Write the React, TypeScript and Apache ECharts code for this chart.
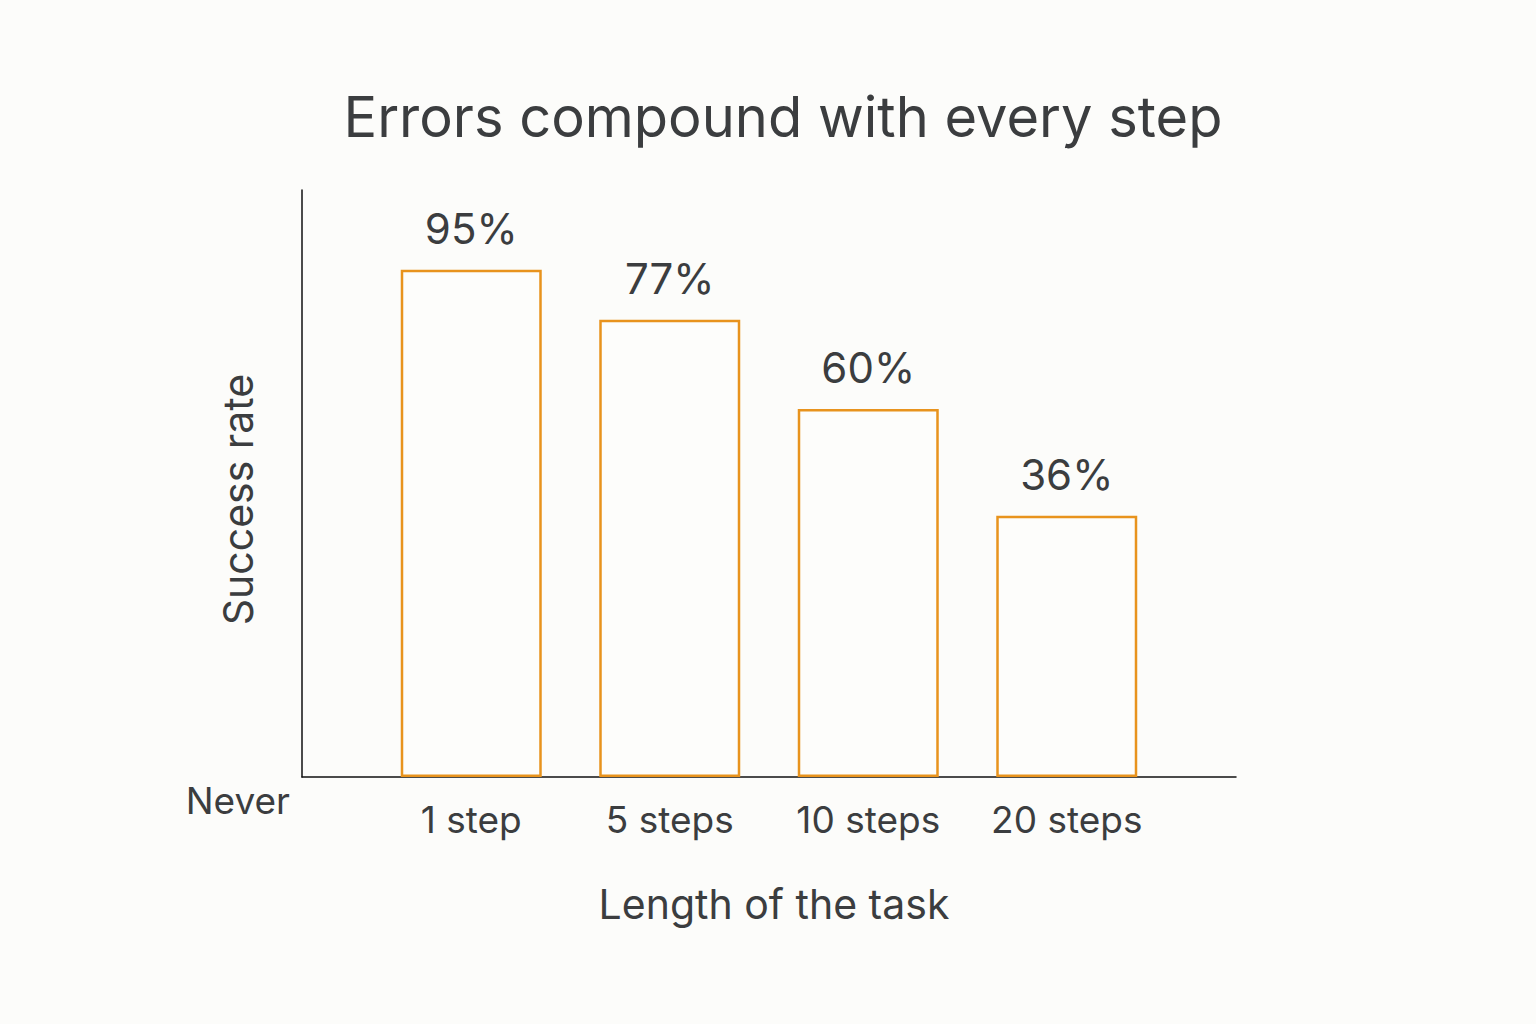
import { useEffect, useRef } from "react";
import * as echarts from "echarts";

// categories along the x axis
const taskLengths = ["1 step", "5 steps", "10 steps", "20 steps"];
// bar heights as drawn in the picture (share of the y axis, 0–100)
const barHeights = [86.4, 77.9, 62.7, 44.5];
// the rates printed above the bars
const rateLabels = ["95%", "77%", "60%", "36%"];

const TEXT = "#3b3d3f";
const ORANGE = "#e8931d";
const FONT = "Inter, 'Noto Sans', sans-serif";

const App = () => {
  const chartRef = useRef<HTMLDivElement>(null);

  useEffect(() => {
    if (!chartRef.current) return;
    const chart = echarts.init(chartRef.current, null, { renderer: "svg" });

    const option: echarts.EChartsOption = {
      animation: false,
      backgroundColor: "#fcfcfa",
      textStyle: { fontFamily: FONT },
      title: {
        text: "Errors compound with every step",
        left: 778,
        top: 84,
        textAlign: "center",
        textStyle: { color: TEXT, fontSize: 56, fontWeight: "normal", fontFamily: FONT },
      },
      grid: [
        // frame of the axes
        { left: 302, top: 190, width: 934, height: 587 },
        // area holding the bars
        { left: 372, top: 190, width: 794, height: 587 },
      ],
      xAxis: [
        {
          gridIndex: 0,
          type: "value",
          min: 0,
          max: 1,
          axisLine: { show: true, onZero: false, lineStyle: { color: "#111", width: 1.5 } },
          axisTick: { show: false },
          axisLabel: { show: false },
          splitLine: { show: false },
        },
        {
          gridIndex: 1,
          type: "category",
          data: taskLengths,
          axisLine: { show: false },
          axisTick: { show: false },
          axisLabel: { color: TEXT, fontSize: 37, margin: 24, fontFamily: FONT },
          name: "Length of the task",
          nameLocation: "middle",
          nameGap: 106,
          nameMoveOverlap: false,
          nameTextStyle: { color: TEXT, fontSize: 41, fontFamily: FONT, padding: [0, 0, 0, 10] },
        } as any,
      ],
      yAxis: [
        {
          gridIndex: 0,
          type: "value",
          min: 0,
          max: 100,
          interval: 100,
          axisLine: { show: true, lineStyle: { color: "#111", width: 1.5 } },
          axisTick: { show: false },
          splitLine: { show: false },
          axisLabel: {
            color: TEXT,
            fontSize: 37,
            margin: 12,
            verticalAlign: "top",
            padding: [5, 0, 0, 0],
            fontFamily: FONT,
            formatter: (v: number) => (v === 0 ? "Never" : ""),
          },
          name: "Success rate",
          nameLocation: "middle",
          nameGap: 44,
          nameMoveOverlap: false,
          nameTextStyle: { color: TEXT, fontSize: 41, fontFamily: FONT, padding: [0, 32, 0, 0] },
        } as any,
        {
          gridIndex: 1,
          type: "value",
          min: 0,
          max: 100,
          show: false,
        },
      ],
      series: [
        {
          type: "bar",
          xAxisIndex: 1,
          yAxisIndex: 1,
          data: barHeights,
          barWidth: 141,
          itemStyle: { color: "#fdfdfb", borderColor: ORANGE, borderWidth: 2.5 },
          label: {
            show: true,
            position: "top",
            distance: 20,
            color: TEXT,
            fontSize: 42,
            fontFamily: FONT,
            formatter: (p: any) => rateLabels[p.dataIndex],
          },
        },
      ],
    };

    chart.setOption(option);
    return () => {
      chart.dispose();
    };
  }, []);

  return (
    <div
      ref={chartRef}
      style={{ position: "absolute", left: 0, top: 0, width: "1536px", height: "1024px" }}
    />
  );
};

export default App;
